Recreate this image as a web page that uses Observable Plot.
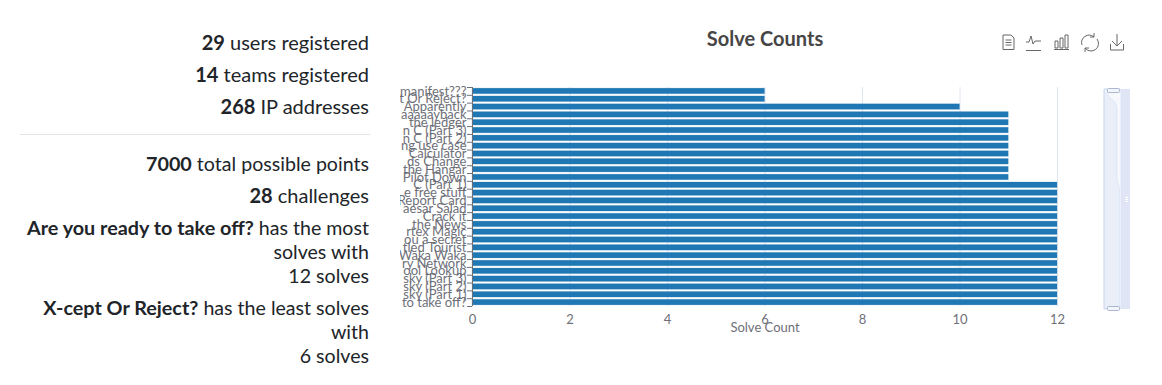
<!DOCTYPE html>
<html><head><meta charset="utf-8">
<script src="https://cdn.jsdelivr.net/npm/d3@7"></script>
<script src="https://cdn.jsdelivr.net/npm/@observablehq/plot@0.6"></script>
<style>
html,body{margin:0;padding:0;background:#fff;width:1162px;height:385px;overflow:hidden;font-family:Lato,sans-serif}
.s{position:absolute;right:793px;white-space:nowrap;font-size:20px;color:#212529;line-height:24px;text-align:right}
.s.n{font-size:19.6px}
.s b{font-size:20px;font-weight:700}
.s.n b{font-size:19.8px}
#hr{position:absolute;left:20px;width:350px;top:134px;height:1px;background:#e4e5e6}
#chart{position:absolute;left:390px;top:0}
#title{position:absolute;left:565px;width:400px;text-align:center;top:27px;font-size:20px;font-weight:700;color:#464646;line-height:22px}
#over{position:absolute;left:0;top:0;pointer-events:none}
</style></head><body>
<div id="stats"></div><div id="hr"></div>
<div id="chart"></div><div id="title">Solve Counts</div>
<svg id="over" width="1162" height="385" fill="none">
 <rect x="385" y="82" width="15" height="228" fill="#fff"/>
 <g stroke="#666" stroke-width="1">
  <path d="M1003 35h8l3 3v11.500h-11zM1005.500 40h6M1005.500 42.500h6M1005.500 45h6"/>
  <path d="M1026 50.500h15M1026 42h3l2-6 2 8 2-3h6"/>
  <path d="M1054 49.500h15M1055 41h3v7h-3zM1060 38h3v10h-3zM1065 35h3v13h-3z"/>
  <path d="M1082 45a7.500 7.500 0 0 1 12-8M1097 39a7.500 7.500 0 0 1-12 9M1094 33v4h-4M1085 52v-4h4"/>
  <path d="M1117 34v12M1112 41l5 5 5-5M1110.500 44v6h13v-6"/>
 </g>
 <rect x="1104" y="89" width="26" height="220" fill="#dfe5f4"/>
 <rect x="1104" y="89" width="16" height="220" fill="#e9eef8"/>
 <path d="M1107.500 92c1 8 8 6 9.500 16l0 72 2.500 8v120h1.500v-218z" fill="#f6f8fc" stroke="#d9e3f6" stroke-width=".7"/>
 <path d="M1104 89v220M1104 309h16M1104 89h16" stroke="#c9d5ee"/>
 <rect x="1107.500" y="88.500" width="12" height="4" rx="1" fill="#f2f5fb" stroke="#acb8d1"/>
 <rect x="1107.500" y="306.500" width="12" height="4" rx="1" fill="#f2f5fb" stroke="#acb8d1"/>
 <path d="M1125 197.500h3M1125 199.500h3M1125 201.500h3" stroke="#fff"/>
</svg>
<script>
const labels = ["manifest???","t Or Reject?","Apparently","aaaaayback","the ledger","n C (Part 3)","n C (Part 2)","ng use case","Calculator","ds Change","the Hangar","Pilot Down","C (Part 1)","e free stuff","Report Card","aesar Salad","Crack it","the News","rtex Magic","ou a secret","tled Tourist","Waka Waka","ry Network","ool Lookup","sky (Part 3)","sky (Part 2)","sky (Part 1)","to take off?"];
const solves = [6,6,10,11,11,11,11,11,11,11,11,11,12,12,12,12,12,12,12,12,12,12,12,12,12,12,12,12];
const xTicks = [0,2,4,6,8,10,12];
const statLines = [
 [43,"29"," users registered"],[75,"14"," teams registered"],[107,"268"," IP addresses"],
 [164,"7000"," total possible points"],[196,"28"," challenges"],
 [228,"Are you ready to take off?"," has the most"],[252,""," solves with"],[276,"","12 solves"],
 [308,"X-cept Or Reject?"," has the least solves"],[332,"","with"],[356,"","6 solves"]];
const stats = document.getElementById("stats");
statLines.forEach(([y,b,t],i)=>{
  const d=document.createElement("div");d.className=(i>=5||i==3)?"s n":"s";d.style.top=(y-13+(i>=5&&!b?0.5:0))+"px";
  if(b){const e=document.createElement("b");e.textContent=b;d.append(e);}
  d.append(t);stats.append(d);
});
const rows = labels.map((l,i)=>({l,v:solves[i]}));
const step = 219/28;
const plot = Plot.plot({
  width:772,height:340,marginLeft:82,marginRight:105,marginTop:87,marginBottom:34,
  style:{fontFamily:"Lato,sans-serif",background:"transparent",overflow:"visible"},
  x:{domain:[0,12],ticks:xTicks},
  y:{domain:labels,paddingInner:0.29,paddingOuter:0.145,align:0.5,round:false},
  marks:[
    Plot.gridX(xTicks,{stroke:"#e0e6f1",strokeOpacity:1}),
    Plot.barX(rows,{x:"v",y:"l",fill:"#1f77b4",stroke:"#1f77b4",strokeOpacity:0.2,strokeWidth:1}),
    Plot.axisX({ticks:xTicks,tickSize:0,tickPadding:8,fontSize:13,color:"#6e7079",label:"Solve Count",labelAnchor:"center",labelArrow:"none",labelOffset:25}),
    Plot.axisY({tickSize:0,tickPadding:6,fontSize:13,color:"#6e7079",label:null}),
    Plot.axisY({text:null,tickSize:5,stroke:"#6e7079",label:null,dy:step/2}),
    Plot.axisY([labels[0]],{text:null,tickSize:5,stroke:"#6e7079",label:null,dy:-step/2}),
    Plot.ruleX([0],{stroke:"#6e7079"})
  ]
});
document.getElementById("chart").append(plot);
</script></body></html>
